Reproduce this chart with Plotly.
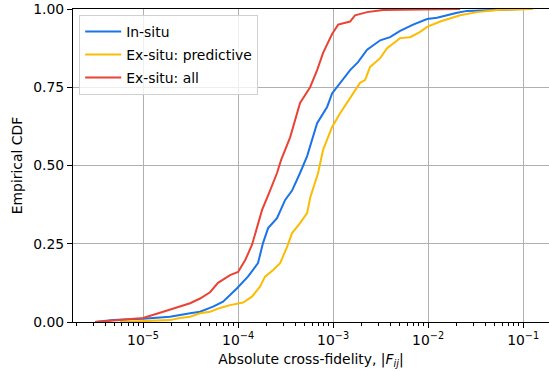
import plotly.graph_objects as go

# Empirical CDF breakpoints (|F_ij| value, cumulative fraction) for each group
insitu_x = [3.13e-6, 4.83e-6, 1.0e-5, 1.92e-5, 3.13e-5, 3.98e-5, 5.46e-5, 6.95e-5,
            9.76e-5, 1.27e-4, 1.62e-4, 1.83e-4, 2.07e-4, 2.57e-4, 3.13e-4, 3.70e-4,
            4.49e-4, 5.33e-4, 6.79e-4, 8.65e-4, 9.76e-4, 1.27e-3, 1.51e-3, 1.83e-3,
            2.28e-3, 3.13e-3, 3.98e-3, 5.07e-3, 6.95e-3, 9.76e-3, 1.24e-2, 2.02e-2,
            2.57e-2, 0.1]
insitu_cdf = [0.0, 0.006, 0.010, 0.017, 0.028, 0.033, 0.049, 0.065,
              0.108, 0.145, 0.188, 0.252, 0.300, 0.332, 0.390, 0.420,
              0.476, 0.530, 0.635, 0.687, 0.730, 0.773, 0.805, 0.830,
              0.870, 0.900, 0.910, 0.930, 0.950, 0.968, 0.972, 0.988,
              0.994, 1.0]

pred_x = [5.73e-6, 1.0e-5, 1.92e-5, 2.45e-5, 3.13e-5, 3.98e-5, 5.07e-5, 6.47e-5,
          8.24e-5, 1.13e-4, 1.40e-4, 1.70e-4, 1.92e-4, 2.34e-4, 2.77e-4, 3.28e-4,
          3.70e-4, 4.49e-4, 5.33e-4, 5.73e-4, 6.95e-4, 7.85e-4, 9.76e-4, 1.19e-3,
          1.40e-3, 1.62e-3, 1.92e-3, 2.17e-3, 2.45e-3, 3.13e-3, 3.70e-3, 5.07e-3,
          6.47e-3, 8.24e-3, 9.76e-3, 1.34e-2, 2.17e-2, 3.28e-2, 5.33e-2, 0.127]
pred_cdf = [0.0, 0.003, 0.006, 0.013, 0.017, 0.028, 0.033, 0.045,
            0.054, 0.062, 0.081, 0.113, 0.145, 0.166, 0.188, 0.240,
            0.284, 0.316, 0.348, 0.396, 0.476, 0.550, 0.623, 0.668,
            0.700, 0.730, 0.764, 0.773, 0.815, 0.843, 0.875, 0.907,
            0.910, 0.927, 0.943, 0.960, 0.980, 0.990, 0.997, 1.0]

all_x = [3.13e-6, 1.0e-5, 1.63e-5, 3.13e-5, 3.98e-5, 5.07e-5, 6.15e-5, 8.24e-5,
         1.0e-4, 1.19e-4, 1.40e-4, 1.79e-4, 2.17e-4, 2.57e-4, 2.84e-4, 3.53e-4,
         4.49e-4, 5.73e-4, 6.79e-4, 7.85e-4, 9.76e-4, 1.13e-3, 1.51e-3, 1.70e-3,
         2.28e-3, 3.36e-3, 2.17e-2]
all_cdf = [0.0, 0.013, 0.033, 0.060, 0.075, 0.095, 0.125, 0.150,
           0.160, 0.198, 0.246, 0.358, 0.420, 0.476, 0.518, 0.590,
           0.700, 0.750, 0.805, 0.860, 0.920, 0.950, 0.960, 0.980,
           0.990, 0.997, 1.0]

series_names = ["In-situ", "Ex-situ: predictive", "Ex-situ: all"]
series_colors = ["#1a73e8", "#fbbc04", "#ea4335"]

x_tickvals = [1e-5, 1e-4, 1e-3, 1e-2, 1e-1]
x_ticktext = ["10<sup>\u22125</sup>", "10<sup>\u22124</sup>", "10<sup>\u22123</sup>",
              "10<sup>\u22122</sup>", "10<sup>\u22121</sup>"]
y_tickvals = [0, 0.25, 0.5, 0.75, 1.0]
y_ticktext = ["0.00", "0.25", "0.50", "0.75", "1.00"]

fig = go.Figure()
for name, color, xs, ys in zip(series_names, series_colors,
                                [insitu_x, pred_x, all_x],
                                [insitu_cdf, pred_cdf, all_cdf]):
    fig.add_trace(go.Scatter(x=xs, y=ys, mode="lines", name=name, legendgroup=name,
                             line=dict(color=color, width=2)))

font = dict(family="DejaVu Sans", size=13.9, color="black")
fig.update_layout(
    width=549, height=372,
    margin=dict(l=73, r=0, t=9, b=50),
    plot_bgcolor="white", paper_bgcolor="white",
    font=font,
    showlegend=True,
    legend=dict(x=0.013, y=0.981, xanchor="left", yanchor="top",
                bgcolor="rgba(255,255,255,0.8)", bordercolor="#d0d0d0",
                borderwidth=1, font=font, tracegroupgap=2, itemwidth=36),
)
fig.update_xaxes(
    type="log", range=[-5.737, -0.728],
    tickvals=x_tickvals, ticktext=x_ticktext, tickfont=font,
    showgrid=True, gridcolor="#b0b0b0", gridwidth=1,
    ticks="outside", ticklen=5, tickcolor="black",
    minor=dict(ticks="outside", ticklen=2.5, tickcolor="black", dtick="D1", showgrid=False),
    showline=True, linecolor="black", linewidth=1, mirror=True,
    zeroline=False,
    title=dict(text="Absolute cross-fidelity, |<i>F</i><sub><i>ij</i></sub>|",
               font=font, standoff=7),
)
fig.update_yaxes(
    range=[0, 1], tickvals=y_tickvals, ticktext=y_ticktext, tickfont=font,
    showgrid=True, gridcolor="#b0b0b0", gridwidth=1,
    ticks="outside", ticklen=5, tickcolor="black",
    showline=True, linecolor="black", linewidth=1,
    zeroline=False,
    title=dict(text="Empirical CDF", font=font, standoff=7),
)

fig.write_html("out.html")
